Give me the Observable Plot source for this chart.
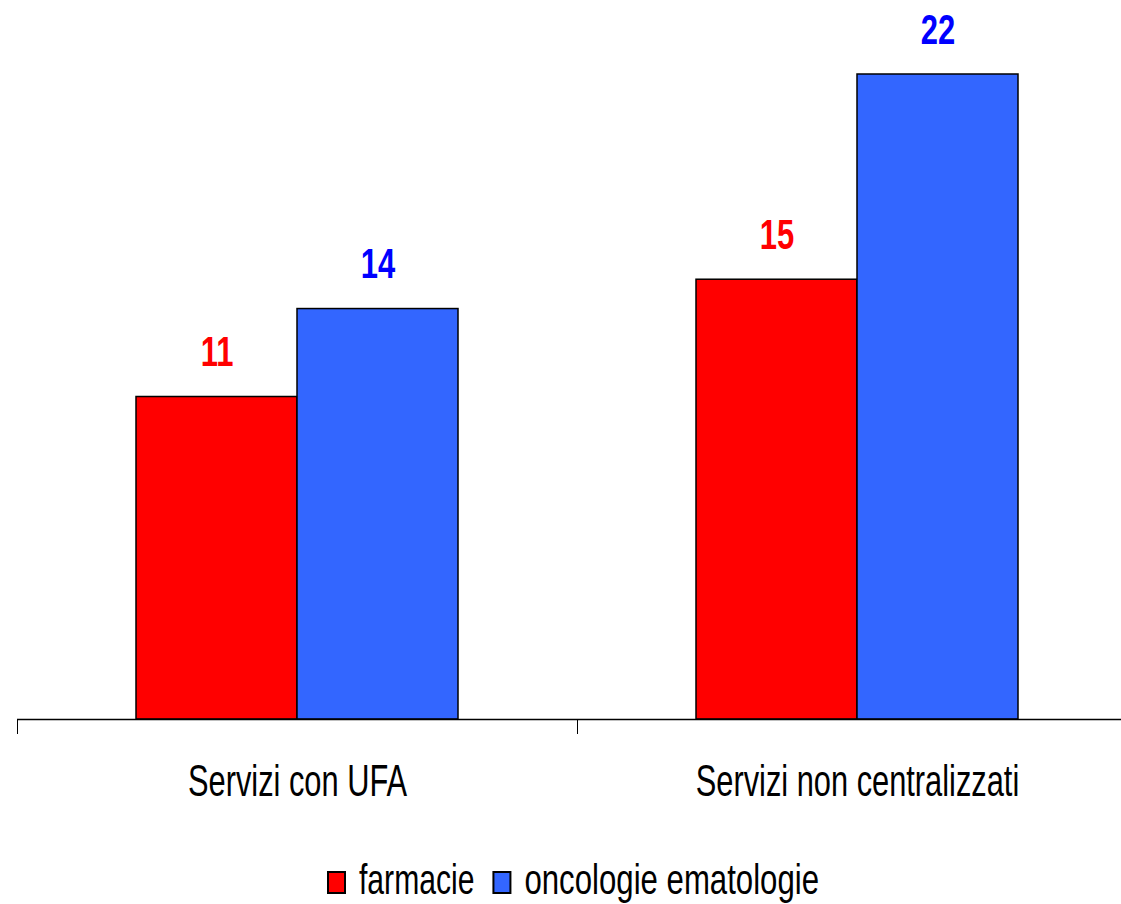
<!DOCTYPE html>
<html><head><meta charset="utf-8">
<script src="https://cdn.jsdelivr.net/npm/d3@7"></script>
<script src="https://cdn.jsdelivr.net/npm/@observablehq/plot@0.6"></script>
<style>
body{margin:0;background:#fff;}
#chart{position:relative;width:1121px;height:904px;overflow:hidden;font-family:"Liberation Sans",Arial,sans-serif;}
#chart svg{display:block;}
#legendsvg{position:absolute;left:0;top:840px;}
</style></head>
<body><div id="chart"></div>
<script>
const groups = ["Servizi con UFA", "Servizi non centralizzati"];
const series = ["farmacie", "oncologie ematologie"];
const farmacie = [11, 15];
const oncologie = [14, 22];
const fillColors = ["#FF0000", "#3366FF"];
const labelColors = ["#FF0000", "#0000FF"];

const values = [farmacie, oncologie];
const data = [];
groups.forEach((g, gi) => series.forEach((s, si) => data.push({group: g, series: s, value: values[si][gi]})));

const FONT = '"Liberation Sans",Arial,sans-serif';

const chart = Plot.plot({
  width: 1121,
  height: 840,
  marginTop: 0,
  marginLeft: 17,
  marginRight: 0,
  marginBottom: 107,
  style: {fontFamily: FONT, background: "#fff"},
  fx: {domain: groups, range: [17, 1137], padding: 0, label: null, axis: null},
  x: {domain: series, paddingInner: 0, paddingOuter: 0.739, axis: null},
  y: {domain: [0, 22], range: [719, 74], axis: null},
  color: {domain: series, range: fillColors},
  marks: [
    Plot.barY(data, {fx: "group", x: "series", y: "value", fill: "series", stroke: "#000", strokeWidth: 1.5}),
    Plot.ruleY([0], {stroke: "#000", strokeWidth: 1.5}),
    Plot.frame({anchor: "left", insetTop: 719, stroke: "#000", strokeWidth: 1}),
    Plot.text(data, {fx: "group", x: "series", y: "value", text: d => String(d.value), fill: d => labelColors[series.indexOf(d.series)], fontSize: 43, fontWeight: "bold", lineAnchor: "bottom", dy: -31}),
    Plot.axisFx({anchor: "bottom", tickSize: 0, tickPadding: 31, fontSize: 44, fill: "#000", label: null})
  ]
});
const host = document.getElementById("chart");
host.appendChild(chart);

// Legend (below the plot), built from the series arrays
const lg = d3.select(host).append("svg")
  .attr("id", "legendsvg").attr("width", 1121).attr("height", 64)
  .style("font-family", FONT);
let lx = 328;
const squeeze = [0.7, 0.725];
series.forEach((s, i) => {
  lg.append("rect").attr("x", lx).attr("y", 32).attr("width", 17).attr("height", 21)
    .attr("fill", fillColors[i]).attr("stroke", "#000").attr("stroke-width", 2);
  const t = lg.append("text").attr("x", lx + 31).attr("y", 54).attr("font-size", 43).attr("fill", "#000").text(s);
  const w = t.node().getComputedTextLength() * squeeze[i];
  t.attr("textLength", w).attr("lengthAdjust", "spacingAndGlyphs");
  lx += 31 + w + 19;
});

// Condense chart text horizontally to match the narrow lettering of the reference
chart.querySelectorAll("text").forEach(t => {
  const f = t.closest('[aria-label="fx-axis tick label"]') ? 0.7 : 0.72;
  const w = t.getComputedTextLength();
  if (w > 0) { t.setAttribute("textLength", w * f); t.setAttribute("lengthAdjust", "spacingAndGlyphs"); }
});
</script></body></html>
